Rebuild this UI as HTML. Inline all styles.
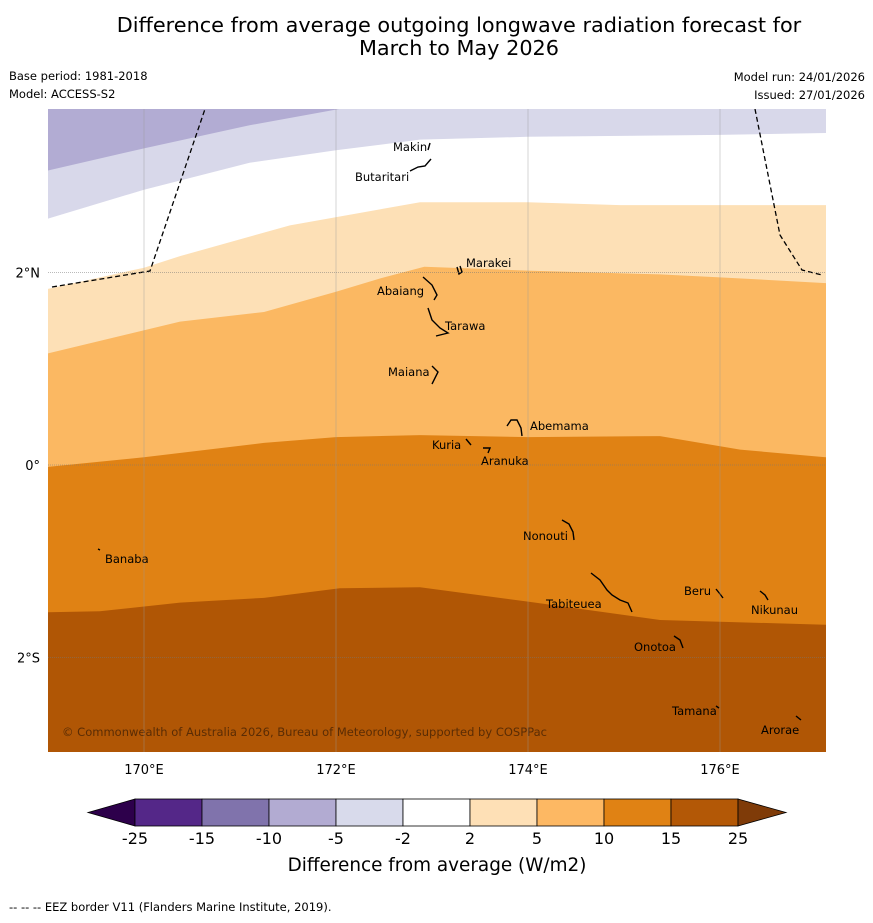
<!DOCTYPE html>
<html><head><meta charset="utf-8"><style>
body{margin:0;background:#fff;width:873px;height:919px;overflow:hidden;font-family:"DejaVu Sans","Liberation Sans",sans-serif}
svg text{font-family:"DejaVu Sans","Liberation Sans",sans-serif}
</style></head><body>
<svg id="chart" width="873" height="919" viewBox="0 0 873 919">
<text x="459" y="32" font-size="20.8" text-anchor="middle">Difference from average outgoing longwave radiation forecast for</text>
<text x="459" y="55" font-size="20.8" text-anchor="middle">March to May 2026</text>
<text x="9" y="80" font-size="11.5">Base period: 1981-2018</text>
<text x="9" y="98" font-size="11.5">Model: ACCESS-S2</text>
<text x="865" y="81" font-size="11.5" text-anchor="end">Model run: 24/01/2026</text>
<text x="865" y="99" font-size="11.5" text-anchor="end">Issued: 27/01/2026</text>
<defs><clipPath id="mapclip"><rect x="48" y="109" width="778" height="643"/></clipPath></defs>
<g id="map" clip-path="url(#mapclip)"></g>
<g id="axes"></g>
<g id="cbar"></g>
<text x="437" y="871" font-size="18.4" text-anchor="middle">Difference from average (W/m2)</text>
<text x="9" y="911" font-size="11.5">--  --  -- EEZ border V11 (Flanders Marine Institute, 2019).</text>
</svg>
<script>
// contour boundaries (lon, lat) from top to bottom
const lonsB1=[169,170,171.1,172.04,173];
const latsB1=[3.06,3.29,3.53,3.70,3.9];
const lonsB2=[169,170,171.1,172,172.875,174,176,177.1];
const latsB2=[2.56,2.86,3.14,3.27,3.38,3.41,3.43,3.45];
const lonsB3=[169,170,170.375,171.52,172.875,174,174.96,177.1];
const latsB3=[1.83,2.05,2.17,2.49,2.73,2.73,2.70,2.70];
const lonsB4=[169,170.375,171.25,172,172.5,172.92,174,175.375,176,177.1];
const latsB4=[1.16,1.49,1.59,1.80,1.95,2.06,2.02,1.98,1.95,1.89];
const lonsB5=[169,170,171.25,172,172.875,174,175.375,176.21,177.1];
const latsB5=[-0.02,0.08,0.23,0.29,0.31,0.29,0.30,0.16,0.08];
const lonsB6=[169,169.54,170.375,171.25,172.04,172.875,174,175.375,177.1];
const latsB6=[-1.53,-1.52,-1.43,-1.38,-1.28,-1.27,-1.42,-1.61,-1.66];
const bandColors=['#b2acd3','#d8d8ea','#ffffff','#fde0b6','#fbb862','#e08214','#b05605'];
const cbLevels=['-25','-15','-10','-5','-2','2','5','10','15','25'];
const cbColors=['#542788','#8073ac','#b2abd2','#d8daeb','#ffffff','#fee0b6','#fdb863','#e08214','#b35806'];
const lonTicks=[170,172,174,176];
const latTicks=[2,0,-2];
const latLabels=['2°N','0°','2°S'];

const X=lon=>144+(lon-170)*96;
const Y=lat=>465-lat*96.25;
const NS='http://www.w3.org/2000/svg';
function mk(tag,attrs,parent){const e=document.createElementNS(NS,tag);for(const k in attrs)e.setAttribute(k,attrs[k]);parent.appendChild(e);return e;}
const map=document.getElementById('map');
const bg=mk('rect',{x:48,y:100,width:790,height:660,fill:bandColors[0]},map);


const bounds=[[lonsB1,latsB1],[lonsB2,latsB2],[lonsB3,latsB3],[lonsB4,latsB4],[lonsB5,latsB5],[lonsB6,latsB6]];
const bandNames=['band-neg5-neg2','band-neg2-2','band-2-5','band-5-10','band-10-15','band-15-25'];
bounds.forEach((b,i)=>{
  let d='M'+(X(b[0][0])-5)+','+Y(b[1][0]);
  b[0].forEach((lo,j)=>{d+=' L'+X(lo)+','+Y(b[1][j]);});
  if(i==0){d+=' L850,90 L850,770 L40,770 Z';}
  else{d+=' L850,'+Y(b[1][b[1].length-1])+' L850,770 L40,770 Z';}
  const p=mk('path',{d:d,fill:bandColors[i+1]},map);
  
  
});
// grid
const axes=document.getElementById('axes');
lonTicks.forEach(l=>{
  const g=mk('line',{x1:X(l),x2:X(l),y1:109,y2:752,stroke:'#999','stroke-width':0.5,'stroke-opacity':0.8},axes);
  
  
  const t=mk('text',{x:X(l),y:774,'font-size':13,'text-anchor':'middle'},axes);t.textContent=l+'°E';
  
  
});
latTicks.forEach((l,i)=>{
  const g=mk('line',{x1:48,x2:826,y1:Y(l),y2:Y(l),stroke:'#777','stroke-width':0.6,'stroke-dasharray':'1,1'},axes);
  
  
  const t=mk('text',{x:40,y:Y(l)+5,'font-size':13,'text-anchor':'end'},axes);t.textContent=latLabels[i];
  
  
});
// EEZ borders
const e1=mk('polyline',{points:'52,287 150,271 205,109',fill:'none',stroke:'#000','stroke-width':1.3,'stroke-dasharray':'5,3'},map);


const e2=mk('polyline',{points:'755,109 780,235 802,270 822,275',fill:'none',stroke:'#000','stroke-width':1.3,'stroke-dasharray':'5,3'},map);


// islands
const islands=[
 ['Makin',393,151,'430,143 428,150'],['Butaritari',355,181,'410,171 418,167 425,166 431,159'],
 ['Marakei',466,267,'457,267 459,274 462,272 460,266'],['Abaiang',377,295,'423,277 432,285 437,295 434,300'],
 ['Tarawa',445,330,'428,308 432,320 440,328 448,333 436,336'],['Maiana',388,376,'432,366 438,372 432,384'],
 ['Abemama',530,430,'507,426 511,420 517,420 521,428 522,436'],['Kuria',432,449,'466,439 471,445'],
 ['Aranuka',481,465,'483,448 490,448 488,453'],['Nonouti',523,540,'562,520 569,524 573,532 574,540'],
 ['Banaba',105,563,'98,549 100,550'],['Tabiteuea',546,608,'591,573 600,580 607,590 612,595 620,600 628,603 632,612'],
 ['Beru',684,595,'716,589 720,594 723,598'],['Nikunau',751,614,'760,591 765,595 768,600'],
 ['Onotoa',634,651,'674,636 680,640 683,648'],['Tamana',672,715,'716,706 719,708'],['Arorae',761,734,'796,716 801,720']];
islands.forEach(s=>{
  const p=mk('polyline',{points:s[3],fill:'none',stroke:'#000','stroke-width':1.4},map);
  
  
  const t=mk('text',{x:s[1],y:s[2],'font-size':11.5},map);t.textContent=s[0];
  
  
});
const cp=mk('text',{x:62,y:736,'font-size':11.5,fill:'#5a2c05',textLength:485},map);
cp.textContent='© Commonwealth of Australia 2026, Bureau of Meteorology, supported by COSPPac';


// colorbar
const cb=document.getElementById('cbar');
const cx0=135,cw=67,cy=799,ch=27;
const lt=mk('polygon',{points:`88,${cy+ch/2} ${cx0},${cy} ${cx0},${cy+ch}`,fill:'#2d004b',stroke:'#000','stroke-width':0.8},cb);


cbColors.forEach((c,i)=>{
  const r=mk('rect',{x:cx0+i*cw,y:cy,width:cw,height:ch,fill:c,stroke:'#000','stroke-width':0.8},cb);
  
  
});
const rx=cx0+cbColors.length*cw;
const rt=mk('polygon',{points:`${rx},${cy} ${rx+48},${cy+ch/2} ${rx},${cy+ch}`,fill:'#7f3b08',stroke:'#000','stroke-width':0.8},cb);


cbLevels.forEach((v,i)=>{
  const t=mk('text',{x:cx0+i*cw,y:844,'font-size':16,'text-anchor':'middle'},cb);t.textContent=v;
  
  
});
</script>
</body></html>
